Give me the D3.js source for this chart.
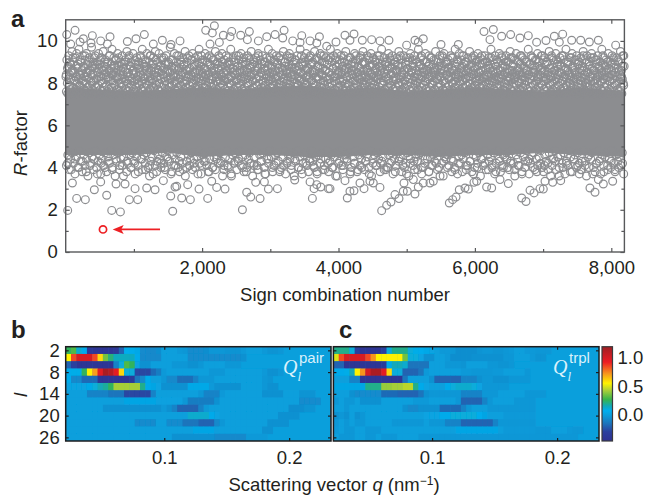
<!DOCTYPE html>
<html>
<head>
<meta charset="utf-8">
<script src="https://cdn.jsdelivr.net/npm/d3@7"></script>
<style>
  html, body { margin: 0; padding: 0; background: #fff; }
  svg { display: block; }
  text { font-family: "Liberation Sans", Arial, sans-serif; fill: #231f20; }
  .tick-label { font-size: 18.5px; }
  .panel-letter { font-size: 24px; font-weight: bold; }
  .math { font-family: "Liberation Serif", serif; font-style: italic; fill: #d9f1fb; }
  .sup { font-size: 15px; fill: #d9f1fb; }
</style>
</head>
<body>
<svg id="chart" width="647" height="496"></svg>
<script>
// dense core of the R-factor cloud, too saturated to read single circles
var coreX = [0, 500, 1000, 1500, 2000, 2500, 3000, 3500, 4000, 4500, 5000, 5500, 6000, 6500, 7000, 7500, 8192];
var coreHigh = [7.8, 7.7, 7.6, 7.7, 7.8, 7.7, 7.8, 7.9, 7.7, 7.8, 7.6, 7.7, 7.8, 7.7, 7.6, 7.8, 7.6];
var coreLow = [4.6, 4.6, 4.6, 4.7, 4.5, 4.6, 4.6, 4.5, 4.5, 4.6, 4.6, 4.5, 4.6, 4.6, 4.7, 4.6, 4.5];

// upper shell, in sign-combination order (estimated)
var upperR = [
8.3,7.6,9.1,8.0,7.5,8.8,9.3,7.9,8.4,7.7,8.9,8.2,7.5,9.5,8.6,7.8,9.0,8.1,7.6,8.5,9.2,7.7,8.3,9.4,8.0,7.5,8.7,8.2,9.6,7.9,
7.6,8.4,9.0,7.8,8.6,7.5,9.3,8.1,8.8,7.7,8.3,9.1,7.6,8.0,9.4,8.5,7.8,8.9,7.5,8.2,9.2,7.9,8.6,7.6,8.4,9.7,8.0,7.7,8.8,9.0,
8.1,7.5,8.7,9.3,7.8,8.2,7.6,9.0,8.5,7.9,9.4,8.3,7.5,8.9,7.7,8.1,9.2,8.6,7.6,8.0,9.5,8.4,7.8,8.8,7.5,9.1,8.2,7.9,8.5,7.6,
9.0,8.3,7.7,8.6,9.3,7.5,8.1,8.9,7.8,9.6,8.4,7.6,8.0,9.2,8.7,7.9,7.5,8.5,9.1,8.2,7.7,9.4,8.3,7.6,8.8,8.0,7.5,9.0,8.6,7.8,
8.2,9.3,7.6,8.4,7.9,8.9,7.5,9.1,8.1,7.7,8.7,9.5,8.0,7.6,8.5,9.2,7.8,8.3,7.5,8.8,9.0,7.9,8.2,7.6,9.4,8.6,7.7,8.1,8.9,7.5,
7.8,8.5,9.2,8.0,7.6,8.3,9.0,7.9,8.7,7.5,9.3,8.4,7.7,8.1,9.6,8.6,7.6,8.9,7.8,8.2,9.1,7.5,8.0,8.8,9.4,7.9,8.3,7.6,8.5,9.0,
7.7,8.2,9.3,8.6,7.5,8.0,8.9,7.8,9.2,8.4,7.6,8.1,9.5,8.7,7.9,7.5,8.3,9.0,7.7,8.5,9.4,8.0,7.6,8.8,8.2,7.8,9.1,8.6,7.5,8.4,
9.2,7.9,8.1,7.6,8.9,9.3,7.7,8.3,7.5,8.6,9.0,8.0,7.8,8.5,9.7,8.2,7.6,8.8,7.9,9.1,8.4,7.5,8.7,9.4,8.1,7.7,8.3,9.0,7.6,8.0,
8.6,7.8,9.3,8.2,7.5,8.9,9.1,7.9,8.4,7.6,8.5,9.2,8.0,7.7,8.8,7.5,9.5,8.3,7.8,8.1,9.0,8.6,7.6,8.4,9.3,7.9,8.7,7.5,8.2,9.1,
7.7,8.0,9.4,8.5,7.6,8.3,8.9,7.8,9.2,8.1,7.5,8.6,9.0,7.9,8.4,7.7,9.6,8.2,7.6,8.8,8.0,9.3,7.5,8.5,9.1,7.8,8.3,7.6,8.7,9.4,
8.1,7.9,8.6,7.5,9.0,8.4,7.7,8.2,9.3,8.9,7.6,8.0,9.2,7.8,8.5,7.5,8.3,9.1,8.7,7.9,7.6,9.5,8.1,8.4,7.7,8.9,9.0,7.5,8.2,8.6,
9.2,7.8,8.0,7.6,8.8,9.4,8.3,7.9,7.5,8.5,9.1,8.1,7.7,8.6,9.3,8.4,7.6,8.9,7.8,8.2,9.0,7.5,8.7,8.0,9.6,7.9,8.3,7.6,8.5,9.2,
7.7,8.1,9.0,8.6,7.5,8.4,9.3,7.8,8.2,8.8,7.6,9.1,8.0,7.9,8.5,7.5,9.4,8.3,7.7,8.9,8.1,7.6,9.2,8.6,7.8,8.4,9.0,7.5,8.2,8.7,
9.3,7.9,8.0,7.6,8.5,9.1,7.7,8.3,9.5,8.8,7.5,8.1,8.9,7.8,9.0,8.4,7.6,8.6,9.2,8.2,7.9,7.5,8.7,9.4,8.0,7.7,8.3,9.1,7.6,8.5,
7.8,8.9,9.3,8.1,7.5,8.4,9.0,7.9,8.6,7.6,8.2,9.2,7.7,8.8,8.0,9.6,7.5,8.3,8.5,9.1,7.8,7.6,8.7,9.4,8.1,7.9,8.4,7.5,9.0,8.2,
8.6,7.7,9.3,8.0,7.6,8.9,8.3,9.2,7.8,8.5,7.5,9.1,8.1,7.9,8.7,7.6,8.4,9.5,8.2,7.7,8.8,9.0,7.5,8.0,8.6,9.3,7.8,8.3,7.6,8.9,
9.4,8.1,7.9,8.5,7.5,9.2,8.4,7.7,8.2,9.0,7.6,8.7,8.0,9.1,7.8,8.6,7.5,9.3,8.3,7.9,8.8,7.6,8.1,9.6,8.5,7.7,8.2,9.0,7.5,8.4,
8.9,7.8,9.2,8.0,7.6,8.6,9.4,7.9,8.3,7.5,8.7,9.1,8.2,7.7,8.5,9.3,7.6,8.1,8.9,7.8,9.0,8.4,7.5,8.0,9.5,8.6,7.9,7.6,8.3,9.2,
7.7,8.8,8.2,9.1,7.5,8.5,9.4,8.0,7.8,8.4,9.0,7.6,8.7,8.1,9.3,7.9,7.5,8.6,9.2,8.3,7.7,8.9,8.0,7.6,9.1,8.5,7.8,8.2,9.6,7.5,
8.4,9.0,7.9,7.6,8.7,9.3,8.1,7.7,8.3,9.2,7.5,8.6,8.0,9.4,7.8,8.5,7.6,8.9,9.1,8.2,7.9,7.5,8.4,9.0,8.8,7.7,8.1,9.3,7.6,8.6,
8.0,9.5,7.8,8.3,7.5,9.1,8.5,7.9,8.7,7.6,9.2,8.2,7.7,8.9,8.4,7.5,9.0,8.1,7.8,8.6,9.4,7.6,8.0,9.3,8.3,7.9,8.5,7.5,8.8,9.1,
7.7,8.2,9.2,8.4,7.6,8.0,8.9,7.8,9.5,8.6,7.5,8.1,9.0,7.9,8.3,7.6,8.7,9.3,8.5,7.7,8.2,9.1,7.5,8.8,8.0,9.4,7.8,8.4,7.6,8.9,
9.2,8.1,7.9,7.5,8.6,9.0,8.3,7.7,8.5,9.3,7.6,8.2,8.8,7.8,9.1,8.0,7.5,8.4,9.6,8.7,7.9,7.6,8.1,9.2,8.5,7.7,8.9,8.3,7.5,9.0,
8.6,7.8,8.2,9.4,7.6,8.0,8.7,9.1,7.9,8.4,7.5,9.3,8.5,7.7,8.1,8.9,7.6,9.0,8.3,7.8,8.6,9.2,7.5,8.0,8.8,9.5,7.9,8.2,7.6,8.4,
9.1,7.7,8.5,8.0,7.5,9.3,8.6,7.8,8.1,8.9,7.6,9.2,8.3,7.9,8.7,7.5,9.0,8.4,7.7,8.2,9.4,8.0,7.6,8.5,9.1,7.8,8.8,7.5,8.3,9.3,
8.1,7.9,8.6,7.6,9.0,8.4,7.7,9.6,8.2,7.5,8.9,8.0,9.2,7.8,8.5,7.6,8.3,9.1,8.7,7.9,7.5,8.1,9.4,8.6,7.7,8.4,9.0,7.6,8.2,8.8,
9.3,7.8,8.0,7.5,8.5,9.2,8.3,7.9,7.6,8.9,9.1,8.1,7.7,8.6,9.5,8.4,7.5,8.2,8.7,7.8,9.0,8.0,7.6,9.3,8.5,7.9,8.3,7.5,8.8,9.2,
7.7,8.1,9.4,8.6,7.6,8.0,9.0,7.8,8.4,7.5,8.9,9.1,8.2,7.9,8.5,7.6,9.3,8.3,7.7,8.7,8.0,9.2,7.5,8.6,8.1,7.8,9.6,8.4,7.6,8.9,
9.0,8.2,7.9,7.5,8.5,9.4,8.0,7.7,8.3,9.1,7.6,8.8,8.1,7.8,9.3,8.6,7.5,8.4,9.0,8.2,7.9,7.6,8.7,9.2,8.0,7.7,8.5,9.5,7.5,8.3,
8.9,7.8,9.1,8.1,7.6,8.6,9.3,8.4,7.9,7.5,8.2,9.0,8.8,7.7,8.0,9.4,7.6,8.5,8.3,7.8,9.2,8.6,7.5,8.1,8.9,9.1,7.9,8.4,7.6,8.2,
9.3,7.7,8.7,8.0,7.5,9.0,8.5,7.8,8.3,9.2,7.6,8.1,8.9,9.6,7.9,8.4,7.5,8.6,9.1,8.2,7.7,8.0,9.3,7.6,8.8,8.5,7.8,9.0,8.3,7.5,
8.1,9.4,7.9,8.6,7.6,8.2,9.2,8.4,7.7,8.9,7.5,9.1,8.0,7.8,8.5,9.3,7.6,8.3,8.7,8.1,9.0,7.9,7.5,8.6,9.5,8.2,7.7,8.4,7.6,9.2,
8.8,8.0,7.8,9.1,8.5,7.5,8.3,9.4,7.9,8.6,7.6,8.1,9.0,8.4,7.7,8.9,9.3,7.5,8.2,8.0,9.2,7.8,8.5,7.6,8.7,9.1,8.3,7.9,7.5,8.6,
9.0,8.1,7.7,9.6,8.4,7.6,8.2,8.9,7.8,9.3,8.0,7.5,8.5,9.2,7.9,8.3,7.6,8.8,9.1,8.6,7.7,8.1,7.5,9.4,8.4,7.8,8.2,9.0,7.6,8.7,
8.0,9.3,7.9,8.5,7.5,9.1,8.3,7.7,8.6,9.2,8.1,7.6,8.9,7.8,9.0,8.4,7.5,8.2,9.5,8.0,7.9,8.7,7.6,9.3,8.5,7.7,8.3,9.1,7.5,8.1,
8.6,7.8,9.4,8.2,7.6,8.9,8.4,9.0,7.9,7.5,8.5,9.2,8.0,7.7,8.8,9.3,7.6,8.1,8.3,7.8,9.1,8.6,7.5,8.4,9.6,7.9,8.2,7.7,8.9,9.0,
7.6,8.5,8.0,9.2,7.8,8.3,7.5,9.4,8.7,8.1,7.9,7.6,8.6,9.1,8.4,7.7,8.2,9.3,7.5,8.9,8.0,7.8,9.0,8.5,7.6,8.3,9.2,8.1,7.9,8.8,
7.5,9.5,8.6,7.7,8.4,9.1,8.2,7.6,8.0,9.3,7.8,8.5,7.5,8.9,9.0,8.3,7.9,8.1,7.6,9.4,8.7,7.7,8.4,9.2,7.5,8.6,8.0,7.8,9.1,8.2,
8.5,7.6,9.3,8.3,7.9,8.8,7.5,9.0,8.1,7.7,8.6,9.6,8.4,7.6,8.2,9.2,7.8,8.0,8.9,7.5,9.1,8.5,7.9,8.3,7.6,9.4,8.7,7.7,8.1,9.0,
7.5,8.4,8.6,9.3,7.8,8.2,7.6,9.1,8.0,8.9,7.9,8.5,7.5,9.2,8.3,7.7,8.7,9.0,8.1,7.6,8.4,9.5,7.8,8.6,7.5,8.2,9.3,8.0,7.9,8.8
];

// second pass over the upper shell, where the cloud still shows only small gaps
var upperDense = [
8.4,8.7,8.2,9.0,8.5,8.6,9.2,8.1,8.3,8.8,8.9,8.4,9.1,8.2,8.0,8.7,9.3,8.5,8.3,8.6,9.0,8.1,8.8,8.4,9.2,8.9,8.2,8.5,8.7,9.1,
8.3,8.0,8.6,9.0,8.4,8.9,8.2,9.3,8.7,8.5,8.1,8.8,9.1,8.3,8.6,9.2,8.4,8.0,8.9,8.7,8.2,9.0,8.5,8.3,9.3,8.8,8.1,8.6,8.4,9.1,
8.9,8.2,8.7,8.5,9.2,8.0,8.3,8.8,9.0,8.6,8.4,8.1,9.3,8.7,8.2,8.9,8.5,9.1,8.3,8.6,8.0,8.8,9.2,8.4,8.7,8.1,9.0,8.5,8.9,8.2,
9.1,8.6,8.3,8.0,8.8,9.3,8.4,8.7,8.2,9.0,8.5,8.9,8.1,8.6,9.2,8.3,8.7,8.4,9.1,8.0,8.8,8.5,8.2,9.3,8.9,8.6,8.1,9.0,8.3,8.7,
8.4,9.2,8.5,8.0,8.8,8.2,9.1,8.6,8.9,8.3,8.7,9.3,8.1,8.4,9.0,8.5,8.2,8.8,8.6,9.2,8.0,8.9,8.3,8.7,9.1,8.4,8.1,8.5,9.3,8.6,
8.2,8.8,9.0,8.3,8.9,8.5,8.0,9.2,8.7,8.4,8.1,9.1,8.6,8.2,8.8,9.3,8.3,8.5,8.9,8.0,8.7,9.0,8.4,8.6,8.1,9.2,8.2,8.8,8.5,9.1,
8.3,8.9,8.7,8.0,9.3,8.4,8.6,8.2,9.0,8.5,8.1,8.8,9.2,8.3,8.7,8.9,8.4,9.1,8.0,8.6,8.2,8.5,9.3,8.8,8.1,9.0,8.3,8.7,8.4,9.2,
8.9,8.6,8.0,8.5,9.1,8.2,8.8,8.3,8.7,9.3,8.4,8.1,9.0,8.6,8.9,8.2,8.5,9.2,8.0,8.7,8.3,9.1,8.8,8.4,8.6,8.1,9.3,8.5,8.2,9.0,
8.7,8.3,8.9,8.0,9.2,8.6,8.4,8.8,8.1,9.1,8.5,8.2,8.7,9.3,8.3,9.0,8.9,8.4,8.0,8.6,9.2,8.5,8.1,8.8,8.3,9.1,8.7,8.2,8.4,9.3,
8.6,8.9,8.0,8.5,9.0,8.3,8.8,8.1,9.2,8.4,8.7,8.2,9.1,8.6,8.5,8.9,8.0,9.3,8.3,8.8,8.4,8.1,9.0,8.7,8.2,9.2,8.5,8.6,8.9,8.3,
9.1,8.0,8.4,8.8,8.2,9.3,8.7,8.5,8.1,9.0,8.6,8.3,8.9,9.2,8.4,8.0,8.7,8.5,9.1,8.2,8.8,8.3,8.6,9.3,8.1,8.9,8.4,9.0,8.7,8.2,
8.5,9.2,8.0,8.6,8.3,8.8,9.1,8.4,8.1,8.7,9.3,8.5,8.9,8.2,9.0,8.6,8.3,8.0,8.8,9.2,8.4,8.7,8.1,9.1,8.5,8.2,8.9,9.3,8.6,8.3,
9.0,8.4,8.8,8.0,8.7,9.2,8.1,8.5,8.9,8.3,9.1,8.6,8.2,8.4,9.3,8.7,8.0,8.8,9.0,8.5,8.1,8.3,9.2,8.6,8.9,8.2,8.4,9.1,8.7,8.0,
8.5,9.3,8.3,8.8,8.1,9.0,8.6,8.4,8.9,8.2,9.2,8.7,8.5,8.0,9.1,8.3,8.8,8.4,8.6,9.3,8.1,8.9,8.2,9.0,8.5,8.7,8.3,9.2,8.0,8.6,
8.4,9.1,8.8,8.2,8.9,8.5,8.1,9.3,8.3,8.7,9.0,8.6,8.4,8.0,9.2,8.8,8.2,8.5,9.1,8.3,8.9,8.7,8.1,8.6,9.3,8.4,8.0,9.0,8.5,8.2,
8.8,9.2,8.3,8.6,8.1,8.9,9.1,8.4,8.7,8.0,8.5,9.3,8.2,8.8,8.6,9.0,8.3,8.1,8.9,8.4,9.2,8.7,8.5,8.0,9.1,8.6,8.2,8.3,8.8,9.3
];

// lower shell, in sign-combination order (estimated)
var lowerR = [
4.1,4.6,3.9,4.4,4.7,4.2,3.7,4.5,4.0,4.8,4.3,3.8,4.6,4.1,4.4,3.6,4.7,4.2,4.5,3.9,4.8,4.0,4.3,4.6,3.7,4.4,4.1,4.7,3.8,4.5,
4.2,4.8,4.0,4.6,3.6,4.3,4.7,3.9,4.4,4.1,4.5,4.8,3.8,4.2,4.6,4.0,4.7,4.3,3.7,4.5,4.1,4.8,4.4,3.9,4.6,4.2,4.7,4.0,3.6,4.3,
4.5,4.8,4.1,3.8,4.6,4.4,4.0,4.7,4.2,3.9,4.5,4.8,4.3,3.7,4.6,4.1,4.4,4.7,4.0,3.8,4.5,4.2,4.8,3.6,4.3,4.6,4.1,4.7,3.9,4.4,
4.0,4.5,4.8,4.2,3.7,4.6,4.3,4.7,4.1,3.8,4.4,4.8,4.0,4.5,3.9,4.6,4.2,4.7,4.3,3.6,4.1,4.5,4.8,4.0,4.4,3.7,4.6,4.2,4.7,3.9,
4.3,4.8,4.1,4.5,3.8,4.6,4.0,4.4,4.7,4.2,3.6,4.5,4.8,4.1,3.9,4.6,4.3,4.7,4.0,3.7,4.4,4.2,4.8,4.5,3.8,4.1,4.6,4.7,4.3,3.9,
4.0,4.5,4.8,3.7,4.2,4.6,4.4,4.1,4.7,3.6,4.3,4.8,4.0,4.5,3.9,4.2,4.6,4.7,4.1,3.8,4.4,4.8,4.3,4.0,4.5,3.7,4.6,4.2,4.7,3.9,
4.1,4.4,4.8,3.8,4.3,4.6,4.0,4.5,4.7,3.6,4.2,4.8,4.1,3.9,4.4,4.6,4.3,4.7,3.7,4.0,4.5,4.2,4.8,3.8,4.6,4.1,4.4,4.7,3.9,4.3,
4.5,4.0,4.8,3.6,4.2,4.6,4.1,4.7,4.4,3.8,4.3,4.5,4.8,3.9,4.0,4.6,4.2,4.7,3.7,4.4,4.1,4.8,4.3,4.5,3.8,4.6,4.0,4.2,4.7,3.6,
4.4,4.8,4.1,3.9,4.5,4.3,4.6,4.7,3.7,4.0,4.2,4.8,4.4,3.8,4.5,4.1,4.6,4.3,4.7,3.9,4.0,4.8,4.2,3.6,4.5,4.4,4.6,4.1,4.7,3.8,
4.3,4.0,4.8,3.7,4.5,4.2,4.6,4.4,4.7,3.9,4.1,4.8,4.3,3.8,4.6,4.0,4.5,4.2,4.7,3.6,4.4,4.1,4.8,3.9,4.6,4.3,4.5,4.0,4.7,3.7,
4.2,4.8,4.4,3.8,4.1,4.6,4.5,4.7,4.0,3.9,4.3,4.8,4.2,3.6,4.6,4.4,4.1,4.7,3.8,4.5,4.0,4.8,4.3,3.7,4.2,4.6,4.7,3.9,4.4,4.1,
4.5,4.8,4.0,3.8,4.6,4.3,4.2,4.7,3.6,4.1,4.4,4.8,3.9,4.5,4.0,4.6,4.2,4.7,3.7,4.3,4.1,4.8,4.5,3.8,4.4,4.6,4.0,4.7,4.2,3.9,
4.3,4.8,4.1,3.6,4.5,4.6,4.4,4.7,4.0,3.8,4.2,4.8,4.3,3.7,4.6,4.1,4.5,4.7,3.9,4.4,4.0,4.8,4.2,3.8,4.6,4.3,4.5,4.1,4.7,3.7
];

var lowerDense = [
4.2,3.9,4.4,4.0,4.3,3.8,4.1,4.4,3.7,4.2,4.0,4.3,3.9,4.4,4.1,3.6,4.3,4.0,4.2,3.8,4.4,3.9,4.1,3.7,4.3,4.2,4.0,4.4,3.8,4.1,
4.3,3.9,4.0,4.4,4.2,3.7,4.1,4.3,3.8,4.0,4.4,4.2,3.9,4.1,3.6,4.3,4.4,4.0,3.8,4.2,4.1,3.9,4.3,3.7,4.4,4.0,4.2,3.8,4.1,4.3,
3.9,4.4,4.0,3.7,4.2,4.3,4.1,3.8,4.4,3.9,4.2,4.0,3.6,4.3,4.1,4.4,3.8,4.2,3.9,4.0,4.3,3.7,4.4,4.1,4.2,3.9,4.0,4.3,3.8,4.4,
4.1,3.7,4.2,4.3,3.9,4.0,4.4,3.8,4.1,4.2,3.6,4.3,4.0,4.4,3.9,4.2,3.8,4.1,4.3,3.7,4.0,4.4,4.2,3.9,4.1,3.8,4.3,4.0,4.4,4.2,
3.9,4.1,3.7,4.3,4.4,4.0,3.8,4.2,4.1,3.9,4.4,4.3,3.6,4.0,4.2,3.8,4.4,4.1,3.9,4.3,4.0,3.7,4.2,4.4,3.8,4.1,4.3,3.9,4.0,4.2
];

// stray circles
var strayHighX = [137,15,391,650,73,210,259,371,513,611,1031,1153,904,1417,1544,1676,1285,2053,2180,2150,2116,2253,2312,2434,2410,2566,2693,2664,2825,2948,3070,3202,3182,3329,3461,3436,3583,3720,3681,3827,3963,4095,4227,4168,4349,4486,4608,4740,4999,5121,5243,5170,5503,5757,6133,6270,6221,6392,6524,6783,6661,6905,7042,7165,7287,7238,7419,7551,7678,7810,8064];
var strayHighR = [10.5,10.3,10.25,10.2,9.85,9.95,10.1,9.9,10,9.85,10.1,10.3,9.97,10.03,9.83,10,9.85,10.5,10.72,10.38,9.85,9.93,10.27,10.45,10.2,10.27,10.44,10.06,10,10.2,10.3,10.5,10.14,10,10.25,9.93,10,10.2,9.9,9.75,9.95,10.27,10.33,10.03,10.03,10.06,10,10.03,9.8,10.03,10.1,9.94,9.83,9.83,10.44,10.54,10.06,10.22,10.3,10.25,10.14,9.94,10.02,10.22,10.32,9.94,10.03,10.03,9.95,10.03,9.8];
var strayLowX = [29,675,802,1569,2591,161,288,934,1056,601,420,98,513,738,870,1017,1188,1310,1432,1540,1701,1828,1603,1628,1789,1955,2082,2141,2214,2336,2654,2713,2850,2786,2913,2972,3104,3358,3583,3617,3642,3681,3739,3852,3875,4095,4129,4168,4227,4315,4374,4461,4510,4608,4633,4706,4769,4828,4887,4950,5009,4960,5097,5121,5170,5243,5341,5390,5625,5674,5723,5771,5855,5904,5986,6026,6172,6246,6368,6490,6686,6749,6808,6867,6954,7003,7028,7140,7258,7531,7687,7761,7810,7883,8020];
var strayLowR = [1.97,1.97,1.9,1.93,2,2.54,2.48,2.48,2.48,2.69,2.95,3.27,3.32,3.22,3.22,3,3.03,2.95,3.38,2.65,2.56,2.48,3.08,3.11,3.19,2.98,2.54,3.35,3.06,2.98,2.83,2.6,2.53,3.3,3.32,2.98,3,3.41,3.32,2.54,3,3.19,3.08,3,3,3.38,2.56,2.88,2.9,3.27,3,3.35,3.27,3.06,1.96,2.21,2.37,2.72,2.53,2.88,2.88,3.27,3.43,2.75,3.08,3.27,3.27,3.35,2.32,2.48,2.6,2.95,3.03,2.98,3.3,3.35,3.08,3.03,3.43,3.24,2.56,2.39,2.92,2.8,3,2.98,3.35,3.3,3.38,3.7,3.03,2.83,3.43,3.22,3.35];

// the best solution, marked in red
var bestX = 547, bestR = 1.07;
var arrowX = [1383, 689], arrowR = 1.07;

var xMajor = [2000, 4000, 6000, 8000];
var xMinor = [1000, 3000, 5000, 7000];
var yMajor = [0, 2, 4, 6, 8, 10];
var yMinor = [1, 3, 5, 7, 9];

// heat map rows, l = 2, 4, ... 26; missing trailing columns are 0
var lValues = [2, 4, 6, 8, 10, 12, 14, 16, 18, 20, 22, 24, 26];
var lTicks = [2, 8, 14, 20, 26];
var qTicks = [0.1, 0.2];

var pairRows = [
  [.25,.3,.12,.05,-.38,-.42,-.42,-.42,-.4,-.38,-.2,.06,.06,.04,-.07,-.08,-.08,-.06,0,0,0,-.02,-.03,-.07,-.07,-.07,-.06,-.03,-.03,-.03,-.04,-.04,-.04,-.02,0,0,0,-.02,-.04,-.04,-.03],
  [.55,.85,1,1,1,.85,.6,.35,.22,.14,.14,.14,.14,.05,-.08,-.08,-.08,-.08,0,0,0,0,0,-.07,-.07,-.07,-.07,-.07,-.07,-.07,-.07,-.07,-.07,-.05],
  [-.2,-.3,-.42,-.42,-.42,-.42,-.42,-.42,-.42,-.1,.1,.3,.25,.02,-.05,-.05,0,0,0,0,-.03,-.03,-.03,-.05,-.05,-.03,0,0,0,0,-.03,-.03,-.03],
  [.06,.08,.08,.25,.55,.7,.95,1.15,1.1,.95,.6,.1,.1,-.28,-.28,-.28,-.18,-.12,-.02,0,0,0,0,0,0,0,0,-.03,-.03,-.03,0,0,0,0,0,0,0,-.02,-.05,-.05,-.03],
  [.06,-.08,-.08,-.18,-.18,-.18,-.42,-.42,-.42,-.42,-.42,-.42,-.35,-.15,-.08,.05,0,0,-.03,-.08,-.08,-.17,-.17,-.17,-.1,-.03,-.03,-.03,0,0,0,0,0,0,0,0,0,-.03,-.04],
  [.02,.02,.02,.02,.04,.1,.15,.18,.25,.42,.42,.42,.42,.42,.2,.05,.03,.02,-.05,-.05,-.05,-.05,-.05,.04,.04,.04,.04,-.02,-.05,-.05,-.05,-.05,-.05,0,0,0,0,-.03,-.05,-.05],
  [0,0,0,0,-.1,-.1,-.1,-.1,-.15,-.15,-.15,-.28,-.28,-.28,-.28,-.28,-.1,0,0,0,0,0,0,0,0,-.03,-.1,-.1,-.1,-.02,0,0,0,0,0,0,0,-.05,-.05,-.05,-.05,0,0,0,-.04,-.04,-.04],
  [0,0,0,0,0,0,0,0,0,0,0,.03,.03,.03,.03,.03,.03,.01,.01,.01,.01,.01,-.03,-.12,-.12,-.12,-.12,-.12,-.05,0,0,0,0,0,0,0,0,0,0,0,0,0,0,0,-.07,-.07,-.07,-.07],
  [0,0,0,0,0,0,0,-.05,-.05,-.05,-.05,-.05,-.05,-.05,-.05,-.05,-.05,-.05,-.02,-.05,-.1,-.2,-.2,-.2,-.2,-.1,-.02,0,0,0,0,0,0,0,0,0,0,0,0,0,0,0,-.06,-.06,-.06,-.04,-.04],
  [0,0,0,0,0,0,0,0,0,0,0,0,0,0,0,0,0,0,0,0,0,0,0,.12,.12,.12,.12,.05,.02,0,0,0,0,0,0,0,0,0,0,0,-.05,-.05,-.05,-.05],
  [0,0,0,0,0,0,0,0,0,0,0,0,0,-.07,-.07,-.07,-.07,0,0,-.07,-.07,-.07,-.15,-.15,-.15,-.2,-.2,-.2,-.08,-.03,0,0,0,0,0,0,0,0,-.05,-.05,-.05,-.05],
  [0,0,0,0,0,0,0,0,0,0,0,0,0,0,0,0,0,0,0,0,0,0,0,0,.03,.03,.03,.03,0,0,0,0,0,0,0,0,0,-.05,-.05],
  [0,0,0,0,0,0,0,0,0,0,0,0,0,0,0,0,0,0,0,0,-.05,-.05,-.05,-.05,-.05,-.05,-.05,-.05,-.08,-.08,-.08,-.08,-.08,-.08,-.02,-.02,-.02,-.02]
];

var trplRows = [
  [.2,.2,.2,.1,-.3,-.42,-.42,-.42,-.42,-.3,.1,.2,.2,.2,.1,.08,.06,.04,.02,0,-.02,-.02,-.03,-.06,-.06,-.06,-.06,-.04,-.03,-.03,-.04,-.04,-.03,-.02,0,0,-.02,-.02,-.03,-.03,-.03],
  [.5,.85,1,1,1,1,.85,.72,.55,.55,.55,.55,.55,.35,.1,.1,.02,-.05,-.05,0,0,-.02,-.06,-.06,-.06,-.06,-.05,-.05,-.05,-.05,-.05,-.05,-.03,-.03,0,0,0,-.02,-.04,-.04],
  [-.2,-.2,-.42,-.42,-.42,-.42,-.42,-.42,-.42,-.35,.05,.15,.15,.12,-.15,-.15,-.15,-.15,0,0,0,-.03,-.03,-.03,-.04,0,0,0,0,-.03,-.03,-.04,-.04,-.03],
  [.05,.05,.08,.15,.55,.72,1,1.15,1.15,.95,.6,.1,.1,-.2,-.2,-.2,-.15,-.02,0,0,0,0,0,0,-.02,-.02,-.03,-.03,-.03,-.03,-.02,-.02,0,0,0,0,-.03],
  [0,0,0,-.1,-.1,-.42,-.42,-.42,-.42,-.42,-.42,-.42,-.42,-.15,0,0,0,0,-.05,-.2,-.2,-.2,-.2,-.2,-.1,-.1,-.1,-.05,-.03,-.03,-.05,-.05,-.05,-.03,-.03,-.03,-.03],
  [.03,.03,.03,.03,.03,.03,.2,.2,.2,.4,.4,.42,.42,.45,.45,.2,.05,.02,0,0,0,.05,.1,.12,.12,.12,.1,.02,-.03,-.03,-.03,-.03,-.03],
  [0,0,0,-.05,-.07,-.07,-.07,-.07,-.07,-.18,-.18,-.18,-.2,-.2,-.2,-.2,-.15,-.05,-.03,-.03,-.03,-.03,-.03,-.03,-.1,-.1,-.1,-.1,-.03,-.03,-.03,0,0,0,0,0,-.03,-.03,-.03,-.03],
  [-.03,0,-.03,-.03,0,-.05,-.05,-.05,-.05,0,0,0,0,0,0,-.02,-.02,-.02,0,0,0,0,0,-.03,-.2,-.2,-.2,-.2,-.1,-.03,0,0,0,0,-.03,-.03,-.03,-.03],
  [0,0,-.03,0,0,0,0,0,0,0,0,0,0,-.05,-.08,-.08,-.05,-.05,-.05,-.05,-.18,-.18,-.18,-.18,-.1,-.03,0,0,0,-.03,-.03,-.03,-.03,-.03,-.03,-.03,-.03,-.03],
  [-.05,-.03,-.05,0,-.05,-.03,0,0,0,0,0,0,0,0,0,0,0,.02,.02,.02,.05,.05,.1,.1,.1,.1,.1,.06,.03,0,0,0,-.02,-.02,-.02,-.02,-.02,-.02],
  [-.03,0,-.03,0,-.03,-.03,0,0,0,0,0,-.03,-.03,-.03,-.03,-.03,-.03,0,-.03,-.03,-.03,-.1,-.1,-.1,-.2,-.2,-.2,-.2,-.2,-.2,-.1,-.03,-.03,-.03,-.03,-.03,-.03,-.03],
  [-.02,0,-.03,-.03,0,0,-.03,-.03,-.03,0,0,0,0,0,0,0,0,0,0,0,0,0,0,.03,.03,.03,.03,.03,.03,.03,.03,0,-.02,-.02,-.02,-.02,-.02,-.02,-.03,-.03,-.03,0,0,0,-.02,-.03,-.03],
  [0,-.03,-.03,-.03,0,0,-.03,-.03,0,-.03,-.03,-.03,0,0,0,0,-.03,-.03,-.03,-.03,-.03,-.03,-.03,-.03,-.03,-.03,-.03,-.03,-.03,-.03,-.03,-.03,-.03,-.03,-.03,-.03,-.03,-.03,-.03,-.03,-.03,-.03,-.03,-.03,-.03,-.03]
];

// colour bar
var colorValues = [-.46, -.3, -.15, 0, .07, .15, .27, .42, .55, .72, .92, 1.19];
var colorHex = ["#2e3192", "#2b3f9e", "#1c75bc", "#0a9fdc", "#00aeef", "#12a9b8", "#39b54a", "#a6ce39", "#fff200", "#f7941e", "#ed1c24", "#9e1f23"];
var colorTicks = [0, 0.5, 1];

var Config = {
  Left: 65.7, Right: 624.4, Top: 19.8, Bottom: 252,
  HeatTop: 346.7, HeatBottom: 441,
  PairLeft: 65.7, PairRight: 331,
  TrplLeft: 333.4, TrplRight: 599,
  BarLeft: 602, BarRight: 612.5,
  QMin: 0.0211, QMax: 0.2335,
  Gray: "#8c8d90", AxisGray: "#58595b", Red: "#ed2024",
  CircleR: 3.9
};

var svg = d3.select("#chart");

var defs = svg.append("defs");
defs.append("filter")
  .attr("id", "soften")
  .attr("x", "-2%").attr("y", "-2%").attr("width", "104%").attr("height", "104%")
  .append("feGaussianBlur")
  .attr("stdDeviation", 0.6);

var x = d3.scaleLinear().domain([0, 8192]).range([Config.Left, Config.Right]);
var y = d3.scaleLinear().domain([0, 11]).range([Config.Bottom, Config.Top]);

// panel a: core band, then the circles
var core = d3.area()
  .x(function (d) { return x(d); })
  .y0(function (d, i) { return y(coreLow[i]); })
  .y1(function (d, i) { return y(coreHigh[i]); });

svg.append("path")
  .attr("d", core(coreX))
  .attr("fill", Config.Gray);

function drawCircles(xs, rs) {
  svg.append("g")
    .selectAll("circle")
    .data(rs)
    .enter()
    .append("circle")
    .attr("cx", function (d, i) { return x(xs(i)); })
    .attr("cy", function (d) { return y(d); })
    .attr("r", Config.CircleR)
    .attr("fill", "none")
    .attr("stroke", Config.Gray)
    .attr("stroke-width", 1.2);
}

drawCircles(function (i) { return (i + 0.5) * 8192 / upperR.length; }, upperR);
drawCircles(function (i) { return (i + 0.5) * 8192 / upperDense.length; }, upperDense);
drawCircles(function (i) { return (i + 0.5) * 8192 / lowerR.length; }, lowerR);
drawCircles(function (i) { return (i + 0.5) * 8192 / lowerDense.length; }, lowerDense);
drawCircles(function (i) { return strayHighX[i]; }, strayHighR);
drawCircles(function (i) { return strayLowX[i]; }, strayLowR);

// red circle and arrow
svg.append("circle")
  .attr("cx", x(bestX))
  .attr("cy", y(bestR))
  .attr("r", 3.6)
  .attr("fill", "#fff")
  .attr("stroke", Config.Red)
  .attr("stroke-width", 1.7);

svg.append("line")
  .attr("x1", x(arrowX[0]))
  .attr("y1", y(arrowR))
  .attr("x2", x(arrowX[1]) + 6)
  .attr("y2", y(arrowR))
  .attr("stroke", Config.Red)
  .attr("stroke-width", 1.9);

svg.append("path")
  .attr("d", "M" + x(arrowX[1]) + "," + y(arrowR) + "l11,-4.5l-2.5,4.5l2.5,4.5z")
  .attr("fill", Config.Red);

// frame and ticks of panel a
svg.append("rect")
  .attr("x", Config.Left)
  .attr("y", Config.Top)
  .attr("width", Config.Right - Config.Left)
  .attr("height", Config.Bottom - Config.Top)
  .attr("fill", "none")
  .attr("stroke", Config.AxisGray)
  .attr("stroke-width", 1.4);

function tickGroup(axis, dx, dy, color) {
  var g = svg.append("g")
    .attr("transform", "translate(" + dx + "," + dy + ")")
    .call(axis);
  g.select(".domain").remove();
  g.selectAll(".tick line").attr("stroke", color).attr("stroke-width", 1.2);
  g.selectAll(".tick text").attr("class", "tick-label").attr("fill", null);
  return g;
}

function noLabel() { return ""; }

var fmtX = d3.format(",");

tickGroup(d3.axisBottom(x).tickValues(xMajor).tickSize(-4).tickPadding(9).tickFormat(fmtX), 0, Config.Bottom, Config.AxisGray);
tickGroup(d3.axisBottom(x).tickValues(xMinor).tickSize(-3).tickFormat(noLabel), 0, Config.Bottom, Config.AxisGray);
tickGroup(d3.axisTop(x).tickValues(xMajor).tickSize(-4).tickFormat(noLabel), 0, Config.Top, Config.AxisGray);
tickGroup(d3.axisTop(x).tickValues(xMinor).tickSize(-3).tickFormat(noLabel), 0, Config.Top, Config.AxisGray);
tickGroup(d3.axisLeft(y).tickValues(yMajor).tickSize(-4).tickPadding(8), Config.Left, 0, Config.AxisGray);
tickGroup(d3.axisLeft(y).tickValues(yMinor).tickSize(-3).tickFormat(noLabel), Config.Left, 0, Config.AxisGray);
tickGroup(d3.axisRight(y).tickValues(yMajor).tickSize(-4).tickFormat(noLabel), Config.Right, 0, Config.AxisGray);
tickGroup(d3.axisRight(y).tickValues(yMinor).tickSize(-3).tickFormat(noLabel), Config.Right, 0, Config.AxisGray);

svg.append("text")
  .attr("class", "tick-label")
  .attr("x", 345)
  .attr("y", 301)
  .attr("text-anchor", "middle")
  .text("Sign combination number");

var rLabel = svg.append("text")
  .attr("class", "tick-label")
  .attr("transform", "translate(27,143) rotate(-90)")
  .attr("text-anchor", "middle");
rLabel.append("tspan").attr("font-style", "italic").text("R");
rLabel.append("tspan").text("-factor");

svg.append("text").attr("class", "panel-letter").attr("x", 11).attr("y", 27).text("a");
svg.append("text").attr("class", "panel-letter").attr("x", 11).attr("y", 338).text("b");
svg.append("text").attr("class", "panel-letter").attr("x", 339).attr("y", 338).text("c");

// panels b and c
var color = d3.scaleLinear().domain(colorValues).range(colorHex).clamp(true);
var heatY = d3.scaleBand().domain(lValues).range([Config.HeatTop, Config.HeatBottom]);
var lScale = d3.scaleLinear().domain([1, 27]).range([Config.HeatTop, Config.HeatBottom]);

function drawHeat(rows, left, right, isFirst, word, wordX) {
  var col = d3.scaleBand().domain(d3.range(50)).range([left, right]);
  var q = d3.scaleLinear().domain([Config.QMin, Config.QMax]).range([left, right]);
  var clipId = "clip" + word;

  defs.append("clipPath")
    .attr("id", clipId)
    .append("rect")
    .attr("x", left)
    .attr("y", Config.HeatTop)
    .attr("width", right - left)
    .attr("height", Config.HeatBottom - Config.HeatTop);

  svg.append("rect")
    .attr("x", left)
    .attr("y", Config.HeatTop)
    .attr("width", right - left)
    .attr("height", Config.HeatBottom - Config.HeatTop)
    .attr("fill", color(0));

  svg.append("g")
    .attr("clip-path", "url(#" + clipId + ")")
    .append("g")
    .attr("filter", "url(#soften)")
    .selectAll("g")
    .data(rows)
    .enter()
    .append("g")
    .attr("transform", function (d, i) { return "translate(0," + heatY(lValues[i]) + ")"; })
    .selectAll("rect")
    .data(function (d) { return d; })
    .enter()
    .append("rect")
    .attr("x", function (d, j) { return col(j); })
    .attr("width", col.bandwidth() + 0.4)
    .attr("height", heatY.bandwidth() + 0.4)
    .attr("fill", function (d) { return color(d); });

  svg.append("rect")
    .attr("x", left)
    .attr("y", Config.HeatTop)
    .attr("width", right - left)
    .attr("height", Config.HeatBottom - Config.HeatTop)
    .attr("fill", "none")
    .attr("stroke", "#1c1c1e")
    .attr("stroke-width", 1.5);

  tickGroup(d3.axisBottom(q).tickValues(qTicks).tickSize(-3).tickPadding(10).tickFormat(d3.format(".1f")), 0, Config.HeatBottom, "#1c1c1e");
  tickGroup(d3.axisTop(q).tickValues(qTicks).tickSize(-3).tickFormat(noLabel), 0, Config.HeatTop, "#1c1c1e");
  var leftAxis = d3.axisLeft(lScale).tickValues(lTicks).tickSize(-3).tickPadding(6);
  if (!isFirst) leftAxis.tickFormat(noLabel);
  tickGroup(leftAxis, left, 0, "#1c1c1e");
  tickGroup(d3.axisRight(lScale).tickValues(lTicks).tickSize(-3).tickFormat(noLabel), right, 0, "#1c1c1e");

  svg.append("text").attr("class", "math").attr("x", wordX).attr("y", 374).attr("font-size", 20).text("Q");
  svg.append("text").attr("class", "math").attr("x", wordX + 14.5).attr("y", 381).attr("font-size", 13).text("l");
  svg.append("text").attr("class", "sup").attr("x", wordX + 16).attr("y", 363).text(word);
}

drawHeat(pairRows, Config.PairLeft, Config.PairRight, true, "pair", 283);
drawHeat(trplRows, Config.TrplLeft, Config.TrplRight, false, "trpl", 553);

svg.append("text")
  .attr("class", "tick-label")
  .attr("font-style", "italic")
  .attr("transform", "translate(27,395) rotate(-90)")
  .attr("text-anchor", "middle")
  .text("l");

var qLabel = svg.append("text")
  .attr("class", "tick-label")
  .attr("x", 334)
  .attr("y", 491)
  .attr("text-anchor", "middle");
qLabel.append("tspan").text("Scattering vector ");
qLabel.append("tspan").attr("font-style", "italic").text("q");
qLabel.append("tspan").text(" (nm");
qLabel.append("tspan").attr("dy", -6).attr("font-size", 12).text("\u22121");
qLabel.append("tspan").attr("dy", 6).text(")");

// colour bar
var barScale = d3.scaleLinear().domain([-.46, 1.19]).range([Config.HeatBottom, Config.HeatTop]);
var grad = defs.append("linearGradient")
  .attr("id", "barGrad")
  .attr("x1", 0).attr("y1", 1).attr("x2", 0).attr("y2", 0);
grad.selectAll("stop")
  .data(colorValues)
  .enter()
  .append("stop")
  .attr("offset", function (d) { return (d + .46) / 1.65; })
  .attr("stop-color", function (d, i) { return colorHex[i]; });

svg.append("rect")
  .attr("x", Config.BarLeft)
  .attr("y", Config.HeatTop)
  .attr("width", Config.BarRight - Config.BarLeft)
  .attr("height", Config.HeatBottom - Config.HeatTop)
  .attr("fill", "url(#barGrad)")
  .attr("stroke", "#3a3a3c")
  .attr("stroke-width", 1.2);

tickGroup(d3.axisRight(barScale).tickValues(colorTicks).tickSize(0).tickPadding(5).tickFormat(d3.format(".1f")), Config.BarRight, 0, "none");
</script>
</body>
</html>
